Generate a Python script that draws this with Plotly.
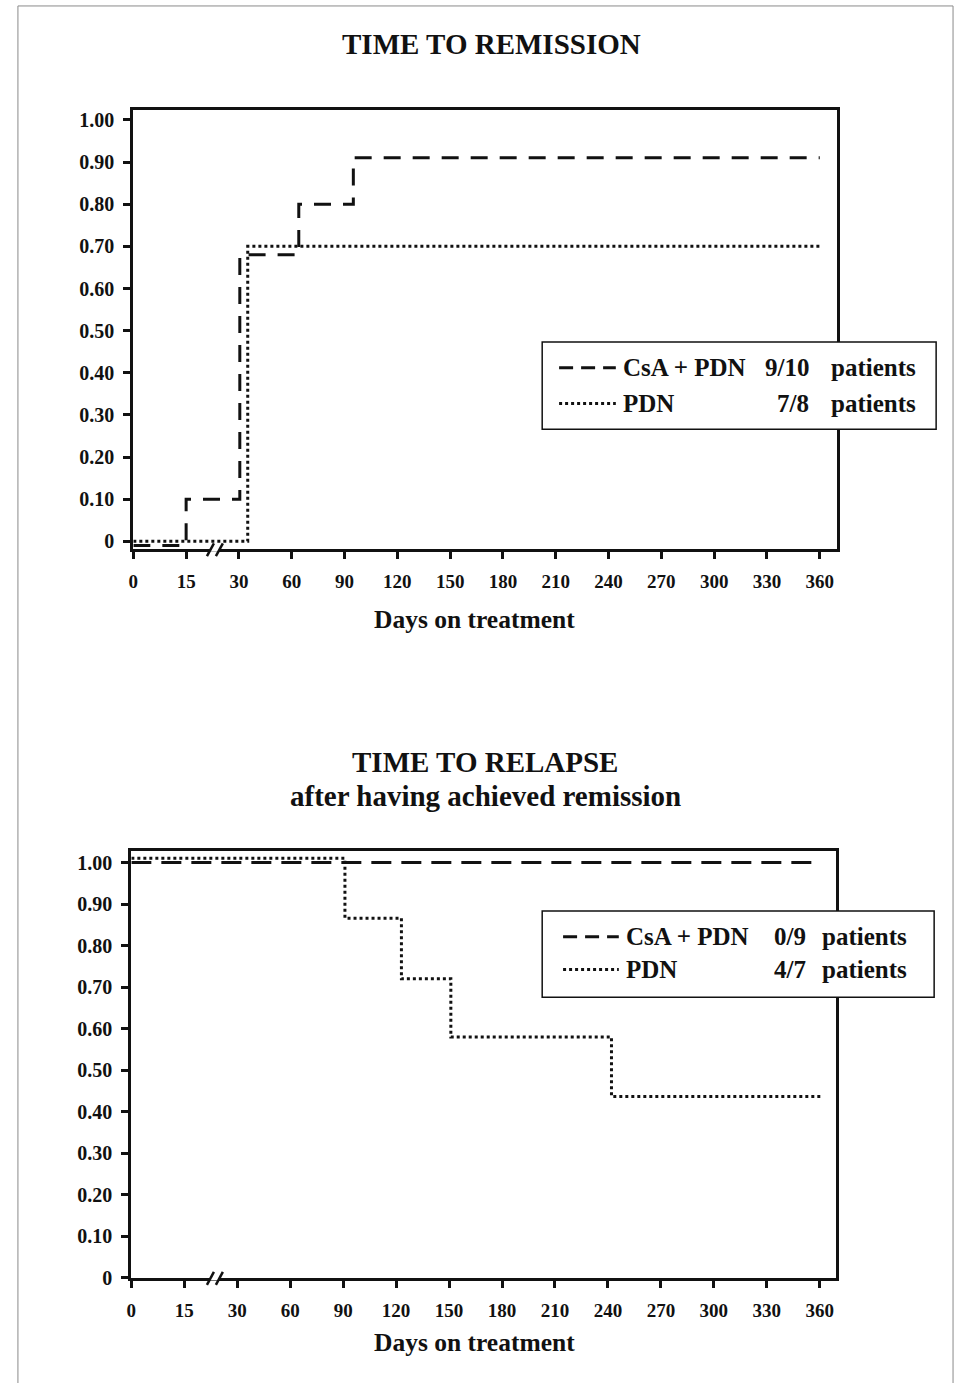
import plotly.graph_objects as go

# ---------------- data (days, survival fraction) ----------------
x_tick_days = [0, 15, 30, 60, 90, 120, 150, 180, 210, 240, 270, 300, 330, 360]
x_tick_labels = ["0", "15", "30", "60", "90", "120", "150", "180", "210", "240", "270", "300", "330", "360"]
y_tick_vals = [0, 0.10, 0.20, 0.30, 0.40, 0.50, 0.60, 0.70, 0.80, 0.90, 1.00]
y_tick_labels = ["0", "0.10", "0.20", "0.30", "0.40", "0.50", "0.60", "0.70", "0.80", "0.90", "1.00"]

remission_csa_days = [0, 15, 30.5, 64, 95, 360]
remission_csa_vals = [-0.01, 0.10, 0.68, 0.80, 0.91, 0.91]
remission_pdn_days = [0, 35, 360]
remission_pdn_vals = [0.0, 0.70, 0.70]

relapse_csa_days = [0, 360]
relapse_csa_vals = [1.00, 1.00]
relapse_pdn_days = [0, 91, 123, 151, 242, 362]
relapse_pdn_vals = [1.01, 0.866, 0.72, 0.58, 0.437, 0.437]

legend_top = [("CsA + PDN", "9/10", "patients"), ("PDN", "7/8", "patients")]
legend_bot = [("CsA + PDN", "0/9", "patients"), ("PDN", "4/7", "patients")]


def day_to_pos(d):
    """Broken time axis: 0-15 and 15-30 get one tick step each, then 30-day steps."""
    if d <= 15:
        return d / 15.0
    if d <= 30:
        return 1 + (d - 15) / 15.0
    return 2 + (d - 30) / 30.0


W, H = 962, 1394
px = lambda v: v / W
py = lambda v: 1 - v / H

SERIF = "Liberation Serif"
BLACK = "#111111"

fig = go.Figure()

fig.add_trace(go.Scatter(x=[day_to_pos(d) for d in remission_csa_days], y=remission_csa_vals,
                         mode="lines", line=dict(shape="hv", color=BLACK, width=3, dash="17px,12px"),
                         xaxis="x", yaxis="y", showlegend=False))
fig.add_trace(go.Scatter(x=[day_to_pos(d) for d in remission_pdn_days], y=remission_pdn_vals,
                         mode="lines", line=dict(shape="hv", color=BLACK, width=3, dash="3px,3px"),
                         xaxis="x", yaxis="y", showlegend=False))
fig.add_trace(go.Scatter(x=[day_to_pos(d) for d in relapse_csa_days], y=relapse_csa_vals,
                         mode="lines", line=dict(shape="hv", color=BLACK, width=3, dash="20px,10px"),
                         xaxis="x2", yaxis="y2", showlegend=False))
fig.add_trace(go.Scatter(x=[day_to_pos(d) for d in relapse_pdn_days], y=relapse_pdn_vals,
                         mode="lines", line=dict(shape="hv", color=BLACK, width=3, dash="3px,3px"),
                         xaxis="x2", yaxis="y2", showlegend=False))

xtickfont = dict(family=SERIF, size=19, color=BLACK, weight="bold")
ytickfont = dict(family=SERIF, size=20, color=BLACK, weight="bold")
tick_pos = [day_to_pos(d) for d in x_tick_days]

common_x = dict(tickmode="array", tickvals=tick_pos, ticktext=x_tick_labels, ticks="outside",
                ticklen=7, tickwidth=2.5, tickcolor=BLACK, showline=True, linewidth=3, linecolor=BLACK,
                mirror=True, showgrid=False, zeroline=False, tickfont=xtickfont, ticklabelstandoff=6)
common_y = dict(tickmode="array", tickvals=y_tick_vals, ticktext=y_tick_labels, ticks="outside",
                ticklen=7, tickwidth=2.5, tickcolor=BLACK, showline=True, linewidth=3, linecolor=BLACK,
                mirror=True, showgrid=False, zeroline=False, tickfont=ytickfont, ticklabelstandoff=5)

fig.update_layout(
    width=W, height=H, margin=dict(l=0, r=0, t=0, b=0),
    paper_bgcolor="white", plot_bgcolor="white",
    xaxis=dict(common_x, domain=[px(129), px(836)], range=[0, 13.32], anchor="y"),
    yaxis=dict(common_y, domain=[py(553), py(110)], range=[-0.0188, 1.0235], anchor="x"),
    xaxis2=dict(common_x, domain=[px(127), px(835)], range=[0, 13.30], anchor="y2"),
    yaxis2=dict(common_y, domain=[py(1288), py(857)], range=[0, 1.0286], anchor="x2"),
)

ann = []
def text(x, y, s, size=20, xanchor="center"):
    ann.append(dict(x=px(x), y=py(y), xref="paper", yref="paper", text=s, showarrow=False,
                    xanchor=xanchor, yanchor="middle",
                    font=dict(family=SERIF, size=size, color=BLACK, weight="bold")))

text(489, 43, "TIME TO REMISSION", 29)
text(483, 768, "TIME TO RELAPSE", 29)
text(483, 802, "after having achieved remission", 29)
text(472, 624, "Days on treatment", 25.5)
text(472, 1353, "Days on treatment", 25.5)

shapes = []
# page frame (left, top, right edges)
for (a, b, c, d) in [(13, 1394, 13, 5), (13, 5, 953, 5), (953, 5, 953, 1394)]:
    shapes.append(dict(type="line", xref="paper", yref="paper", x0=px(a), y0=py(b), x1=px(c), y1=py(d),
                       line=dict(color="#8a8a8a", width=1)))

def legend_box(x0, y0, x1, y1, rows, row_y, sample_x0, sample_x1, col_x, dashes):
    shapes.append(dict(type="rect", xref="paper", yref="paper", x0=px(x0), x1=px(x1), y0=py(y1), y1=py(y0),
                       fillcolor="white", line=dict(color=BLACK, width=1.5), layer="above"))
    for (name, frac, pat), yy, dash in zip(rows, row_y, dashes):
        shapes.append(dict(type="line", xref="paper", yref="paper", x0=px(sample_x0), x1=px(sample_x1),
                           y0=py(yy), y1=py(yy), line=dict(color=BLACK, width=3, dash=dash), layer="above"))
        text(col_x[0], yy, name, 25, "left")
        text(col_x[1], yy, frac, 25, "right")
        text(col_x[2], yy, pat, 25, "left")

legend_box(540, 344, 936, 432, legend_top, [370, 406], 557, 614, [619, 810, 828], ["14px,8px", "3px,3px"])
legend_box(540, 918, 934, 1005, legend_bot, [944, 977], 561, 617, [622, 807, 819], ["14px,8px", "3px,3px"])

# axis break marks
def axis_break(ybase):
    shapes.append(dict(type="line", xref="paper", yref="paper", x0=px(206), x1=px(215), y0=py(ybase), y1=py(ybase),
                       line=dict(color="white", width=5), layer="above"))
    for xa in (203, 212):
        shapes.append(dict(type="line", xref="paper", yref="paper", x0=px(xa), x1=px(xa + 7),
                           y0=py(ybase + 7), y1=py(ybase - 6), line=dict(color=BLACK, width=2.5), layer="above"))

axis_break(553)
axis_break(1288)

fig.update_layout(annotations=ann, shapes=shapes)
fig.write_html(
    "out.html",
    config={"displayModeBar": False},
    post_script=("document.body.style.margin='0';"
                 "document.documentElement.style.overflow='hidden';"
                 "document.body.style.overflow='hidden';"
                 "var d=document.getElementById('{plot_id}');"
                 "d.style.position='fixed';d.style.left='0px';d.style.top='0px';"),
)
